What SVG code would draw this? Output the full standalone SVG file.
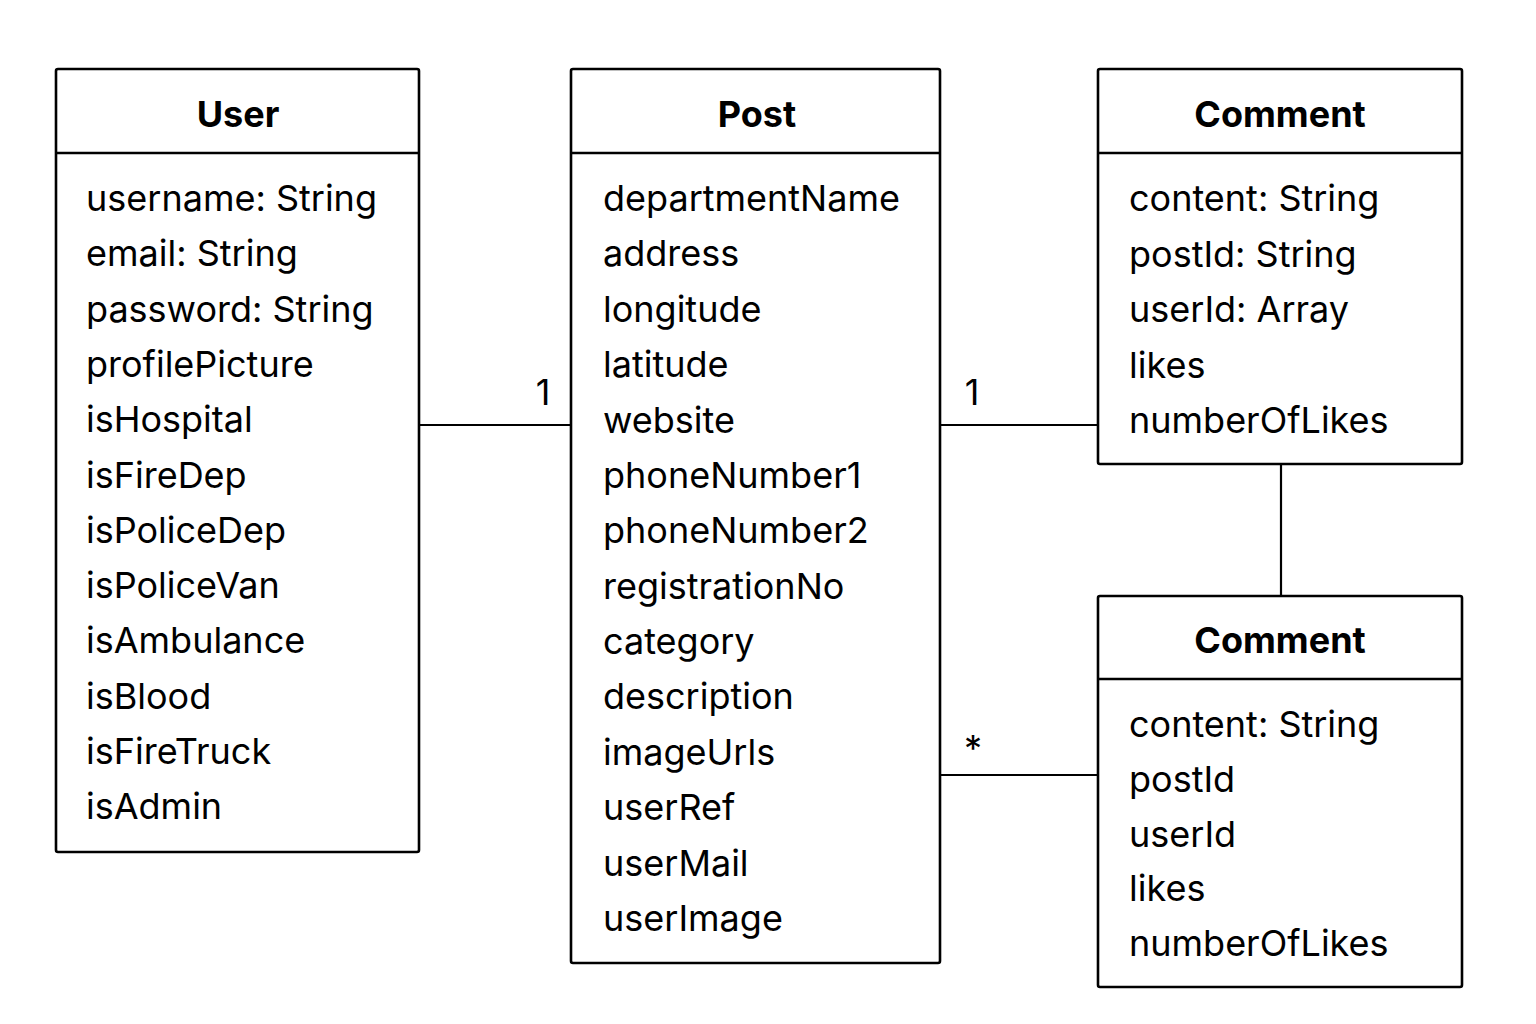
<svg xmlns="http://www.w3.org/2000/svg" width="1536" height="1024" viewBox="0 0 1536 1024">
<style>
.box{fill:#fff;stroke:#000;stroke-width:2.6}
.div{stroke:#000;stroke-width:2.6}
.con{stroke:#000;stroke-width:2.2;fill:none}
.t{font-family:Inter,"Liberation Sans",sans-serif;font-size:36px;font-weight:700;fill:#000;text-anchor:middle}
.a{font-family:Inter,"Liberation Sans",sans-serif;font-size:36px;fill:#000}
.m{font-family:Inter,"Liberation Sans",sans-serif;font-size:36px;fill:#000;text-anchor:middle}
</style>
<rect width="1536" height="1024" fill="#fff"/>
<g id="connectors">
<line class="con" x1="419" y1="425" x2="571" y2="425"/>
<line class="con" x1="940" y1="425" x2="1098" y2="425"/>
<line class="con" x1="940" y1="775" x2="1098" y2="775"/>
<line class="con" x1="1281" y1="464" x2="1281" y2="596"/>
<text class="m" x="543" y="405">1</text>
<text class="m" x="972" y="405">1</text>
<text class="m" x="973" y="761">*</text>
</g>
<g id="user">
<rect class="box" x="56" y="69" width="363" height="783" rx="2"/>
<line class="div" x1="56" y1="153" x2="419" y2="153"/>
<text class="t" x="238" y="127">User</text>
<text class="a" x="86" y="211">username: String</text>
<text class="a" x="86" y="266.3">email: String</text>
<text class="a" x="86" y="321.6">password: String</text>
<text class="a" x="86" y="376.9">profilePicture</text>
<text class="a" x="86" y="432.2">isHospital</text>
<text class="a" x="86" y="487.5">isFireDep</text>
<text class="a" x="86" y="542.8">isPoliceDep</text>
<text class="a" x="86" y="598.1">isPoliceVan</text>
<text class="a" x="86" y="653.4">isAmbulance</text>
<text class="a" x="86" y="708.7">isBlood</text>
<text class="a" x="86" y="764">isFireTruck</text>
<text class="a" x="86" y="819.3">isAdmin</text>
</g>
<g id="post">
<rect class="box" x="571" y="69" width="369" height="894" rx="2"/>
<line class="div" x1="571" y1="153" x2="940" y2="153"/>
<text class="t" x="757" y="127">Post</text>
<text class="a" x="603" y="211">departmentName</text>
<text class="a" x="603" y="266.4">address</text>
<text class="a" x="603" y="321.8">longitude</text>
<text class="a" x="603" y="377.1">latitude</text>
<text class="a" x="603" y="432.5">website</text>
<text class="a" x="603" y="487.9">phoneNumber1</text>
<text class="a" x="603" y="543.3">phoneNumber2</text>
<text class="a" x="603" y="598.7">registrationNo</text>
<text class="a" x="603" y="654">category</text>
<text class="a" x="603" y="709.4">description</text>
<text class="a" x="603" y="764.8">imageUrls</text>
<text class="a" x="603" y="820.2">userRef</text>
<text class="a" x="603" y="875.6">userMail</text>
<text class="a" x="603" y="931">userImage</text>
</g>
<g id="comment1">
<rect class="box" x="1098" y="69" width="364" height="395" rx="2"/>
<line class="div" x1="1098" y1="153" x2="1462" y2="153"/>
<text class="t" x="1280" y="127">Comment</text>
<text class="a" x="1129" y="211">content: String</text>
<text class="a" x="1129" y="266.5">postId: String</text>
<text class="a" x="1129" y="322">userId: Array</text>
<text class="a" x="1129" y="377.5">likes</text>
<text class="a" x="1129" y="433">numberOfLikes</text>
</g>
<g id="comment2">
<rect class="box" x="1098" y="596" width="364" height="391" rx="2"/>
<line class="div" x1="1098" y1="679" x2="1462" y2="679"/>
<text class="t" x="1280" y="653">Comment</text>
<text class="a" x="1129" y="737">content: String</text>
<text class="a" x="1129" y="791.8">postId</text>
<text class="a" x="1129" y="846.5">userId</text>
<text class="a" x="1129" y="901.3">likes</text>
<text class="a" x="1129" y="956">numberOfLikes</text>
</g>
</svg>
